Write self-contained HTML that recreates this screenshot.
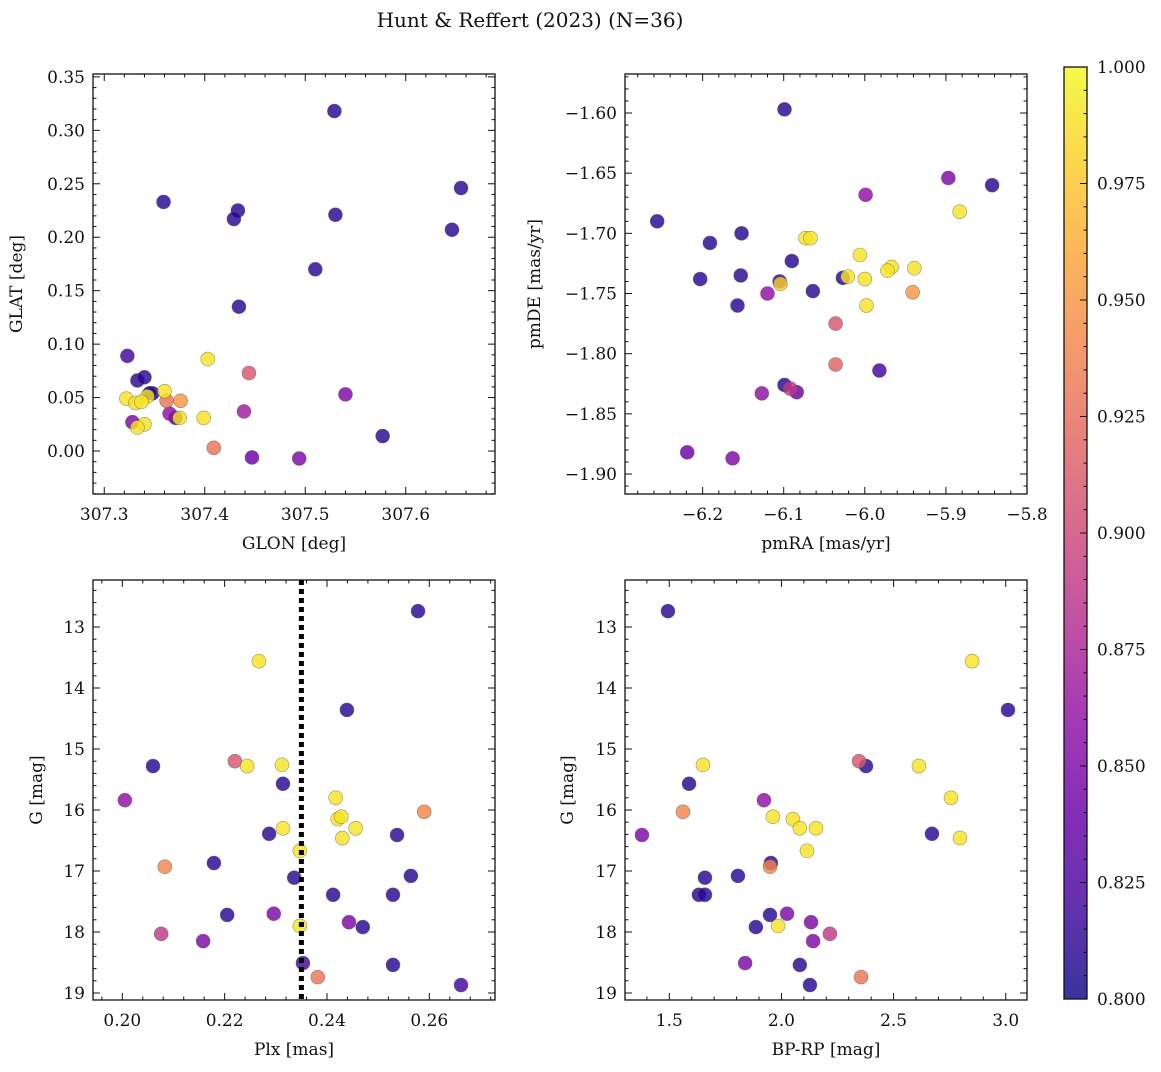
<!DOCTYPE html>
<html><head><meta charset="utf-8"><style>
body{margin:0;background:#fff;}
svg text{font-family:"DejaVu Serif","Liberation Serif",serif;fill:#111;}
</style></head><body>
<svg id="fig" width="1161" height="1067" xmlns="http://www.w3.org/2000/svg">
<defs>
<linearGradient id="plasma" x1="0" y1="1" x2="0" y2="0">
<stop offset="0" stop-color="#0d0887"/><stop offset="0.1" stop-color="#41049d"/><stop offset="0.2" stop-color="#6a00a8"/><stop offset="0.3" stop-color="#8f0da4"/><stop offset="0.4" stop-color="#b12a90"/><stop offset="0.5" stop-color="#cc4778"/><stop offset="0.6" stop-color="#e16462"/><stop offset="0.7" stop-color="#f2844b"/><stop offset="0.8" stop-color="#fca636"/><stop offset="0.9" stop-color="#fcce25"/><stop offset="1" stop-color="#f0f921"/>
</linearGradient>
</defs>
<text x="530" y="27" text-anchor="middle" font-size="20">Hunt &amp; Reffert (2023) (N=36)</text>
</svg>
<script>
// ---- data ----
const tlGlon=[307.359,307.529,307.655,307.646,307.433,307.429,307.530,307.510,307.434,307.323,307.333,307.340,307.348,307.540,307.577,307.447,307.494,307.409,307.444,307.439,307.403,307.322,307.331,307.343,307.360,307.340,307.333,307.375,307.399,307.362,307.376,307.365,307.371,307.328,307.337,307.345];
const tlGlat=[0.233,0.318,0.246,0.207,0.225,0.217,0.221,0.170,0.135,0.089,0.066,0.069,0.054,0.053,0.014,-0.006,-0.007,0.003,0.073,0.037,0.086,0.049,0.045,0.051,0.056,0.025,0.022,0.031,0.031,0.047,0.047,0.035,0.031,0.027,0.046,0.054];
const tlProb=[0.81,0.81,0.81,0.81,0.81,0.81,0.81,0.81,0.81,0.82,0.81,0.81,0.81,0.85,0.81,0.84,0.85,0.93,0.91,0.87,0.99,0.99,0.99,0.99,0.99,0.99,0.99,0.99,0.99,0.93,0.95,0.86,0.82,0.85,0.99,0.81];

const trPmra=[-6.099,-6.256,-6.191,-6.152,-6.203,-6.153,-6.157,-6.105,-6.090,-6.064,-6.027,-5.843,-5.897,-5.999,-5.982,-6.099,-6.084,-6.092,-6.127,-6.120,-6.219,-6.163,-6.036,-6.036,-5.941,-6.104,-6.073,-6.067,-6.006,-6.021,-6.000,-5.998,-5.967,-5.972,-5.939,-5.883];
const trPmde=[-1.597,-1.690,-1.708,-1.700,-1.738,-1.735,-1.760,-1.740,-1.723,-1.748,-1.737,-1.660,-1.654,-1.668,-1.814,-1.826,-1.832,-1.829,-1.833,-1.750,-1.882,-1.887,-1.775,-1.809,-1.749,-1.742,-1.704,-1.704,-1.718,-1.736,-1.738,-1.760,-1.728,-1.731,-1.729,-1.682];
const trProb=[0.81,0.81,0.81,0.81,0.81,0.81,0.81,0.81,0.81,0.81,0.81,0.81,0.85,0.86,0.82,0.81,0.84,0.89,0.86,0.86,0.84,0.85,0.91,0.92,0.95,0.98,0.99,0.99,0.99,0.99,0.99,0.99,0.99,0.99,0.99,0.99];

const gMag=[12.74,14.36,15.28,15.57,15.84,16.87,16.39,16.41,17.11,17.08,17.39,17.39,17.72,17.92,17.70,17.84,18.51,18.54,18.87,18.15,18.03,18.74,15.20,16.93,16.03,13.56,15.28,15.26,16.30,16.67,15.80,16.15,16.11,16.46,16.30,17.90];
const blPlx=[0.2578,0.2439,0.2060,0.2314,0.2005,0.2179,0.2287,0.2537,0.2336,0.2564,0.2412,0.2529,0.2205,0.2470,0.2296,0.2443,0.2353,0.2529,0.2662,0.2158,0.2076,0.2382,0.2220,0.2083,0.2590,0.2267,0.2244,0.2312,0.2314,0.2347,0.2417,0.2421,0.2428,0.2430,0.2456,0.2347];
const blProb=[0.81,0.81,0.81,0.81,0.86,0.81,0.81,0.81,0.81,0.81,0.81,0.81,0.81,0.81,0.85,0.85,0.82,0.81,0.82,0.85,0.89,0.93,0.91,0.94,0.94,0.99,0.99,0.99,0.99,0.99,0.99,0.99,0.99,0.99,0.99,0.99];

const brBprp=[1.494,3.010,2.850,1.588,2.377,2.346,2.613,1.650,1.561,1.378,2.671,2.756,2.796,1.922,1.962,2.051,2.082,2.154,2.114,1.953,1.949,1.659,1.806,1.632,1.659,1.886,1.949,2.025,1.985,2.132,2.141,2.216,1.838,2.082,2.127,2.355];
const brG=[12.74,14.36,13.56,15.57,15.28,15.20,15.28,15.26,16.03,16.41,16.39,15.80,16.46,15.84,16.11,16.15,16.30,16.30,16.67,16.87,16.93,17.11,17.08,17.39,17.39,17.92,17.72,17.70,17.90,17.84,18.15,18.03,18.51,18.54,18.87,18.74];
const brProb=[0.81,0.81,0.99,0.81,0.81,0.91,0.99,0.99,0.94,0.85,0.81,0.99,0.99,0.86,0.99,0.99,0.99,0.99,0.99,0.81,0.94,0.81,0.81,0.81,0.81,0.81,0.81,0.85,0.99,0.85,0.85,0.89,0.85,0.81,0.81,0.93];

const cbTicks=[0.800,0.825,0.850,0.875,0.900,0.925,0.950,0.975,1.000];
const plxLine=0.235;

// ---- helpers ----
const NS="http://www.w3.org/2000/svg";
const svg=document.getElementById('fig');
function mk(tag,attrs,parent){const e=document.createElementNS(NS,tag);for(const k in attrs)e.setAttribute(k,attrs[k]);(parent||svg).appendChild(e);return e;}
const stops=[[0,'#0d0887'],[0.1,'#41049d'],[0.2,'#6a00a8'],[0.3,'#8f0da4'],[0.4,'#b12a90'],[0.5,'#cc4778'],[0.6,'#e16462'],[0.7,'#f2844b'],[0.8,'#fca636'],[0.9,'#fcce25'],[1,'#f0f921']];
function hex(h){return [1,3,5].map(i=>parseInt(h.substr(i,2),16));}
function cmap(p){let t=Math.max(0,Math.min(1,(p-0.8)/0.2));for(let i=0;i<stops.length-1;i++){if(t<=stops[i+1][0]){const f=(t-stops[i][0])/(stops[i+1][0]-stops[i][0]);const a=hex(stops[i][1]),b=hex(stops[i+1][1]);return 'rgb('+a.map((v,j)=>Math.round(v+(b[j]-v)*f)).join(',')+')';}}return stops[10][1];}

const FS=17;
function panel(cfg){
  const {name,x0,x1,y0,y1,xmin,xmax,ymin,ymax,xMaj,xMin,yMaj,yMin,xFmt,yFmt,xlab,ylab,ylabX,invert}=cfg;
  const g=mk('g',{});
  
  
  const sx=v=>x0+(v-xmin)/(xmax-xmin)*(x1-x0);
  const sy=invert?(v=>y0+(v-ymin)/(ymax-ymin)*(y1-y0)):(v=>y1-(v-ymin)/(ymax-ymin)*(y1-y0));
  const eps=1e-6;
  const tg=mk('g',{stroke:'#111','stroke-width':1},g);
  
  
  for(let k=Math.ceil(xmin/xMin-eps);k*xMin<=xmax+eps;k++){
    const v=k*xMin;const X=sx(v);const major=Math.abs(v/xMaj-Math.round(v/xMaj))<1e-4;const L=major?7:3.5;
    mk('line',{x1:X,x2:X,y1:y1,y2:y1-L},tg);mk('line',{x1:X,x2:X,y1:y0,y2:y0+L},tg);
    if(major){const t=mk('text',{x:X,y:y1+26,'text-anchor':'middle','font-size':FS,stroke:'none'},g);t.textContent=xFmt(v);
      }
  }
  for(let k=Math.ceil(ymin/yMin-eps);k*yMin<=ymax+eps;k++){
    const v=k*yMin;const Y=sy(v);const major=Math.abs(v/yMaj-Math.round(v/yMaj))<1e-4;const L=major?7:3.5;
    mk('line',{x1:x0,x2:x0+L,y1:Y,y2:Y},tg);mk('line',{x1:x1,x2:x1-L,y1:Y,y2:Y},tg);
    if(major){const t=mk('text',{x:x0-8,y:Y+6,'text-anchor':'end','font-size':FS,stroke:'none'},g);t.textContent=yFmt(v);
      }
  }
  const fr=mk('rect',{x:x0,y:y0,width:x1-x0,height:y1-y0,fill:'none',stroke:'#111','stroke-width':1.3},g);
  
  const xl=mk('text',{x:(x0+x1)/2,y:y1+55,'text-anchor':'middle','font-size':FS},g);xl.textContent=xlab;
  
  const ym=(y0+y1)/2;
  const yl=mk('text',{x:ylabX,y:ym,'text-anchor':'middle','font-size':FS,transform:'rotate(-90 '+ylabX+' '+ym+')'},g);yl.textContent=ylab;
  
  return {g,sx,sy};
}
function scatter(p,name,xs,ys,ps){
  const order=xs.map((_,i)=>i).sort((a,b)=>ps[a]-ps[b]);
  for(const i of order){
    const c=mk('circle',{cx:p.sx(xs[i]),cy:p.sy(ys[i]),r:7,fill:cmap(ps[i]),'fill-opacity':0.82,stroke:'#555','stroke-opacity':0.6,'stroke-width':0.6},p.g);
    
    
  }
}
const f2=v=>v.toFixed(2), f1=v=>v.toFixed(1), fi=v=>String(Math.round(v));

const tl=panel({name:'glon-glat',x0:93,x1:495,y0:74,y1:494,xmin:307.2888,xmax:307.6888,ymin:-0.0402,ymax:0.3527,xMaj:0.1,xMin:0.02,yMaj:0.05,yMin:0.01,xFmt:f1,yFmt:f2,xlab:'GLON [deg]',ylab:'GLAT [deg]',ylabX:22});
scatter(tl,'glon-glat',tlGlon,tlGlat,tlProb);

const tr=panel({name:'pm',x0:625,x1:1027,y0:74,y1:494,xmin:-6.2957,xmax:-5.8,ymin:-1.9166,ymax:-1.5676,xMaj:0.1,xMin:0.02,yMaj:0.05,yMin:0.01,xFmt:v=>'\u2212'+Math.abs(v).toFixed(1),yFmt:v=>'\u2212'+Math.abs(v).toFixed(2),xlab:'pmRA [mas/yr]',ylab:'pmDE [mas/yr]',ylabX:540});
scatter(tr,'pm',trPmra,trPmde,trProb);

const bl=panel({name:'plx-g',x0:93,x1:495,y0:580,y1:1000,xmin:0.19427,xmax:0.27284,ymin:12.2295,ymax:19.115,invert:true,xMaj:0.02,xMin:0.004,yMaj:1,yMin:0.2,xFmt:f2,yFmt:fi,xlab:'Plx [mas]',ylab:'G [mag]',ylabX:42});
scatter(bl,'plx-g',blPlx,gMag,blProb);
const dl=mk('line',{x1:bl.sx(plxLine),x2:bl.sx(plxLine),y1:580,y2:1000,stroke:'#000','stroke-width':5,'stroke-dasharray':'5,4'},bl.g);



const br=panel({name:'cmd',x0:625,x1:1027,y0:580,y1:1000,xmin:1.3025,xmax:3.0948,ymin:12.2295,ymax:19.115,invert:true,xMaj:0.5,xMin:0.1,yMaj:1,yMin:0.2,xFmt:f1,yFmt:fi,xlab:'BP-RP [mag]',ylab:'G [mag]',ylabX:573});
scatter(br,'cmd',brBprp,brG,brProb);

// colorbar
const cb=mk('g',{});


const cy0=67,cy1=999,cx0=1064,cx1=1087;
const cy=v=>cy1-(v-0.8)/0.2*(cy1-cy0);
mk('rect',{x:cx0,y:cy0,width:cx1-cx0,height:cy1-cy0,fill:'url(#plasma)','fill-opacity':0.82,stroke:'#111','stroke-width':1.3},cb);
for(let k=0;k<=40;k++){const v=0.8+k*0.005;const Y=cy(v);const major=k%5===0;
  mk('line',{x1:cx1,x2:cx1-(major?7:3.5),y1:Y,y2:Y,stroke:'#111','stroke-width':1},cb);}
for(const v of cbTicks){const t=mk('text',{x:cx1+10,y:cy(v)+6,'font-size':FS},cb);t.textContent=v.toFixed(3);
  
  }
</script>
</body></html>
